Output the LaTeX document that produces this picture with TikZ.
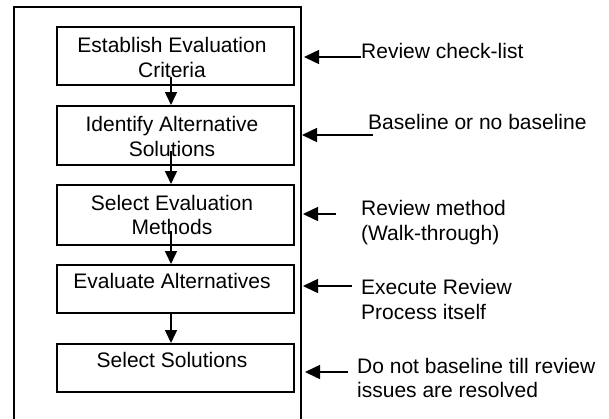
\documentclass[tikz,border=0pt]{standalone}
\usepackage{fontspec}
\setmainfont{Liberation Sans}
\usetikzlibrary{arrows.meta}
\begin{document}
\begin{tikzpicture}[x=1pt,y=-1pt,
  stepbox/.style={draw,line width=2pt,minimum width=237pt,inner sep=0pt},
  txt/.style={inner sep=0pt,anchor=base,align=center,
    font=\fontsize{21}{24.5}\selectfont},
  note/.style={inner sep=0pt,anchor=base west,align=left,
    font=\fontsize{21}{24.5}\selectfont},
  flow/.style={line width=1.5pt,-{Triangle[length=13pt,width=12pt]}},
  feed/.style={line width=1.5pt,-{Triangle[length=15pt,width=14pt]}}]
\useasboundingbox (0,0) rectangle (609,418);

% open outer frame
\draw[line width=2pt] (14,419) -- (14,7) -- (301,7) -- (301,419);

% process steps
\node[stepbox,minimum height=58pt] (b1) at (175.5,56) {};
\node[stepbox,minimum height=59pt] (b2) at (175.5,135.5) {};
\node[stepbox,minimum height=60pt] (b3) at (175.5,215) {};
\node[stepbox,minimum height=48pt] (b4) at (175.5,289) {};
\node[stepbox,minimum height=48pt] (b5) at (175.5,368) {};

% labels are placed by the baseline of their last line
\node[txt] (t1) at (172,77) {Establish Evaluation\\Criteria};
\node[txt] (t2) at (172,156) {Identify Alternative\\Solutions};
\node[txt] (t3) at (172,234.5) {Select Evaluation\\Methods};
\node[txt] (t4) at (172,288.5) {Evaluate Alternatives};
\node[txt] (t5) at (172,367.5) {Select Solutions};

% flow between steps
\draw[flow] ([xshift=-4.5pt,yshift=9pt]b1.south) -- ([xshift=-4.5pt]b2.north);
\draw[flow] ([xshift=-4.5pt,yshift=15pt]b2.south) -- ([xshift=-4.5pt]b3.north);
\draw[flow] ([xshift=-4.5pt,yshift=15pt]b3.south) -- ([xshift=-4.5pt]b4.north);
\draw[flow] ([xshift=-4.5pt]b4.south) -- ([xshift=-4.5pt]b5.north);

% review notes
\node[note] (n1) at (361,58.3) {Review check-list};
\node[note] (n2) at (368,129.3) {Baseline or no baseline};
\node[note] (n3) at (361,240) {Review method\\(Walk-through)};
\node[note] (n4) at (361,319) {Execute Review\\Process itself};
\node[note] (n5) at (357,397.5) {Do not baseline till review\\issues are resolved};

\coordinate (s1) at (361,57);  \coordinate (e1) at (304,57);
\coordinate (s2) at (373,135); \coordinate (e2) at (302,135);
\coordinate (s3) at (336,214); \coordinate (e3) at (303,214);
\coordinate (s4) at (352,286); \coordinate (e4) at (303,286);
\coordinate (s5) at (348,372); \coordinate (e5) at (305,372);

\draw[feed] (s1) -- (e1);
\draw[feed] (s2) -- (e2);
\draw[feed] (s3) -- (e3);
\draw[feed] (s4) -- (e4);
\draw[feed] (s5) -- (e5);
\end{tikzpicture}
\end{document}
